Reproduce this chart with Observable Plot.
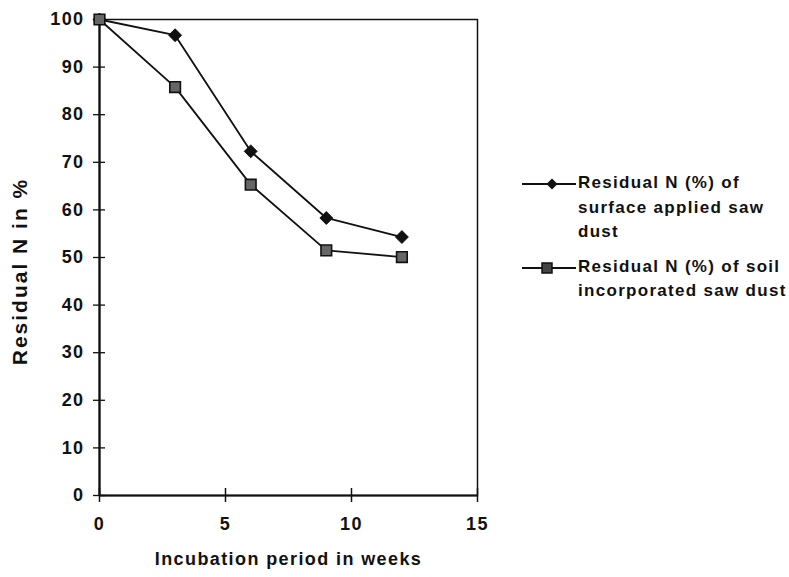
<!DOCTYPE html>
<html>
<head>
<meta charset="utf-8">
<script src="https://cdn.jsdelivr.net/npm/d3@7"></script>
<script src="https://cdn.jsdelivr.net/npm/@observablehq/plot@0.6"></script>
<style>
  html, body { margin: 0; padding: 0; background: #fff; }
  #wrap { position: relative; width: 789px; height: 577px; font-family: "Liberation Sans", Arial, sans-serif; }
  #wrap svg text { letter-spacing: 1.4px; }
  #wrap svg .ytitle text { letter-spacing: 2px; }
  #wrap svg .xtitle text { letter-spacing: 1.4px; }
  #legend { position: absolute; left: 520px; top: 171px; font-size: 17px; font-weight: bold; letter-spacing: 1.3px; color: #111; line-height: 24.5px; }
  .entry { display: flex; align-items: flex-start; margin-bottom: 10px; }
  .entry svg { flex: none; }
  .entry div { margin-left: 2px; }
</style>
</head>
<body>
<div id="wrap"></div>
<script>
const weeks = [0, 3, 6, 9, 12];
const surfaceApplied = [100, 96.7, 72.3, 58.3, 54.3];
const soilIncorporated = [100, 85.8, 65.3, 51.5, 50.1];
const seriesNames = ["Residual N (%) of surface applied saw dust", "Residual N (%) of soil incorporated saw dust"];
const xTicks = [0, 5, 10, 15];
const yTicks = [0, 10, 20, 30, 40, 50, 60, 70, 80, 90, 100];
const xTitle = "Incubation period in weeks";
const yTitle = "Residual N in %";

const data = [
  ...weeks.map((w, i) => ({week: w, value: surfaceApplied[i], series: seriesNames[0]})),
  ...weeks.map((w, i) => ({week: w, value: soilIncorporated[i], series: seriesNames[1]}))
];

const font = {fontFamily: "Liberation Sans, Arial, sans-serif", fontWeight: "bold"};

const chart = Plot.plot({
  width: 789,
  height: 577,
  marginLeft: 99,
  marginRight: 312,
  marginTop: 19,
  marginBottom: 82,
  style: {fontFamily: "Liberation Sans, Arial, sans-serif", color: "#111", background: "#fff"},
  x: {domain: [0, 15]},
  y: {domain: [0, 100]},
  marks: [
    Plot.frame({stroke: "#111", strokeWidth: 1.5}),
    // tick marks crossing the axes
    Plot.axisY({ticks: yTicks, tickSize: 12, dx: 6, tickFormat: () => "", label: null, strokeWidth: 1.3}),
    Plot.axisX({ticks: xTicks, tickSize: 14, dy: -7, tickFormat: () => "", label: null, strokeWidth: 1.5}),
    // tick labels
    Plot.axisY({ticks: yTicks, tickSize: 0, tickPadding: 15, label: null, fontSize: 18, fontWeight: "bold"}),
    Plot.axisX({ticks: xTicks, tickSize: 0, tickPadding: 22, label: null, fontSize: 18, fontWeight: "bold"}),
    Plot.ruleX([0], {stroke: "#111", strokeWidth: 2.2}),
    Plot.ruleY([0], {stroke: "#111", strokeWidth: 2.2}),
    Plot.line(data, {x: "week", y: "value", z: "series", stroke: "#111", strokeWidth: 1.8}),
    Plot.dot(data.filter(d => d.series === seriesNames[0]), {x: "week", y: "value", symbol: "diamond2", r: 5.8, fill: "#111", stroke: "#111", strokeWidth: 1}),
    Plot.dot(data.filter(d => d.series === seriesNames[1]), {x: "week", y: "value", symbol: "square", r: 6, fill: "#666", stroke: "#111", strokeWidth: 1.6}),
    Plot.text([xTitle], {frameAnchor: "bottom", dy: 69, fontSize: 18, className: "xtitle", ...font, fill: "#111"}),
    Plot.text([yTitle], {frameAnchor: "left", textAnchor: "middle", rotate: -90, dx: -79, dy: 14, fontSize: 21, className: "ytitle", ...font, fill: "#111"})
  ]
});

const wrap = document.getElementById("wrap");
wrap.appendChild(chart);

const legend = document.createElement("div");
legend.id = "legend";
legend.innerHTML = `
  <div class="entry">
    <svg width="56" height="24"><line x1="2" y1="13" x2="56" y2="13" stroke="#111" stroke-width="2"/><path d="M32,7.5 L37.5,13 L32,18.5 L26.5,13 Z" fill="#111"/></svg>
    <div>Residual N (%) of<br>surface applied saw<br>dust</div>
  </div>
  <div class="entry">
    <svg width="56" height="24"><line x1="2" y1="13" x2="56" y2="13" stroke="#111" stroke-width="2"/><rect x="22" y="8" width="10" height="10" fill="#444" stroke="#111" stroke-width="1.5"/></svg>
    <div>Residual N (%) of soil<br>incorporated saw dust</div>
  </div>`;
wrap.appendChild(legend);
</script>
</body>
</html>
